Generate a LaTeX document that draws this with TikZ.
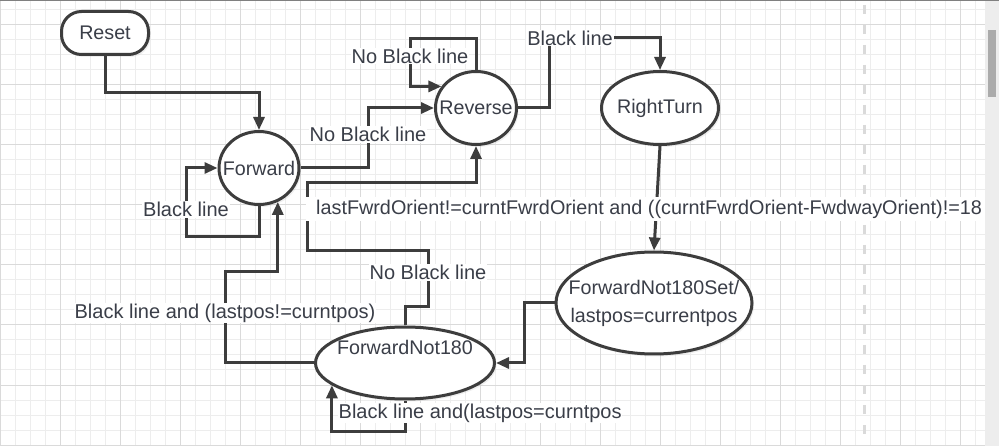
\documentclass[tikz,border=0pt]{standalone}
\usepackage{fontspec}
\setmainfont{Liberation Sans}
\usetikzlibrary{positioning,shadows,arrows.meta,shapes.geometric}

\definecolor{linecol}{HTML}{3D3D3D}
\definecolor{textcol}{HTML}{3A3E48}
\definecolor{gridminor}{HTML}{EDEDED}
\definecolor{gridmajor}{HTML}{DADADA}
\newcommand{\statefont}{\fontsize{19.7}{23}\selectfont}
\newcommand{\guardfont}{\fontsize{20}{24}\selectfont}

\begin{document}
\begin{tikzpicture}[x=1pt, y=-1pt,
                state/.style={ellipse, draw=linecol, line width=3pt, fill=white, drop shadow={shadow xshift=2pt, shadow yshift=-2.5pt, opacity=0.12}, text=textcol, inner xsep=-30pt, inner ysep=0pt, font=\statefont},
                start/.style={rectangle, rounded corners=20pt, draw=linecol, line width=3pt, fill=white, drop shadow={shadow xshift=2pt, shadow yshift=-2.5pt, opacity=0.12}, text=textcol, minimum width=87pt, minimum height=43pt, font=\statefont},
                trans/.style={draw=linecol, line width=3pt, -{Triangle[length=13pt, width=11pt]}},
                guard/.style={fill=white, text=textcol, inner sep=1pt, font=\guardfont}
            ]
            % page and grid
            \useasboundingbox (0,0) rectangle (999,446);
            \fill[white] (0,0) rectangle (999,446);
            \foreach \gx in {0,15,...,990} \draw[gridminor, line width=1pt] (\gx,0) -- (\gx,446);
            \foreach \gy in {10,25,...,445} \draw[gridminor, line width=1pt] (0,\gy) -- (999,\gy);
            \foreach \gx in {0,60,...,960} \draw[gridmajor, line width=1pt] (\gx,0) -- (\gx,446);
            \foreach \gy in {25,85,...,445} \draw[gridmajor, line width=1pt] (0,\gy) -- (999,\gy);
            \draw[gridmajor, line width=3pt, dash pattern=on 9pt off 11pt] (864,5) -- (864,446);

            % states
            \node (Reset) [start] at (105,33) {Reset};
            \node (Forward) [state, minimum width=80pt, minimum height=73pt] at (259,168) {Forward};
            \node (Reverse) [state, minimum width=81pt, minimum height=73pt] at (476,108) {Reverse};
            \node (RightTurn) [state, minimum width=117pt, minimum height=73pt] at (660,108) {RightTurn};
            \node (FwdSet) [state, minimum width=196pt, minimum height=102pt, align=center] at (654,303) {ForwardNot180Set/\\[5pt]lastpos=currentpos};
            \node (FwdNot) [state, minimum width=179pt, minimum height=72pt,
                label={[text=textcol, font=\statefont, yshift=16pt]center:ForwardNot180}] at (405,363) {};

            % transitions
            \draw[trans] (Reset.south) -- ++(0,37) -| (Forward.north);
            \draw[trans] (Forward.south) |- (186,237) |- node[guard, pos=0.2] {Black line} (Forward.west);
            \draw[trans] (Forward.east) -| node[guard, pos=0.78] {No Black line} (368,108) -- (Reverse.west);
            \draw[trans] (Reverse.north) |- (410,39) |- node[guard, pos=0.18] {No Black line} (Reverse.148);
            \draw[trans] (Reverse.east) -| (549,38) -| node[guard, pos=0.095] {Black line} (RightTurn.north);
            \draw[trans] (FwdNot.north) |- (428,307) |- node[guard, pos=0.31] {No Black line} (307,251) -- (307,183) -| (Reverse.south);
            \draw[trans] (FwdNot.west) -| node[guard, pos=0.775] {Black line and (lastpos!=curntpos)} (225,272) -| (Forward.-61);
            \draw[trans] (RightTurn.south) -- (FwdSet.north);
            \node (TurnCond) [guard, anchor=west, inner xsep=10pt, inner ysep=3pt, font=\fontsize{19.8}{24}\selectfont] at (306,209) {lastFwrdOrient!=curntFwrdOrient and ((curntFwrdOrient-FwdwayOrient)!=18};
            \draw[trans] (FwdSet.west) -- ++(-30,0) |- (FwdNot.east);
            \draw[trans] (FwdNot.south) -- ++(0,31) -| (FwdNot.197);
            \node (LoopCond) [guard, anchor=west, inner sep=0.5pt] at (338,413) {Black line and(lastpos=curntpos};

            % window edge
            \fill[black!7] (985,0) rectangle (999,446);
            \fill[black!33] (988,30) rectangle (995.5,97);
            \draw[black!50, line width=1.5pt] (0,0.75) -- (999,0.75);
\end{tikzpicture}
\end{document}
